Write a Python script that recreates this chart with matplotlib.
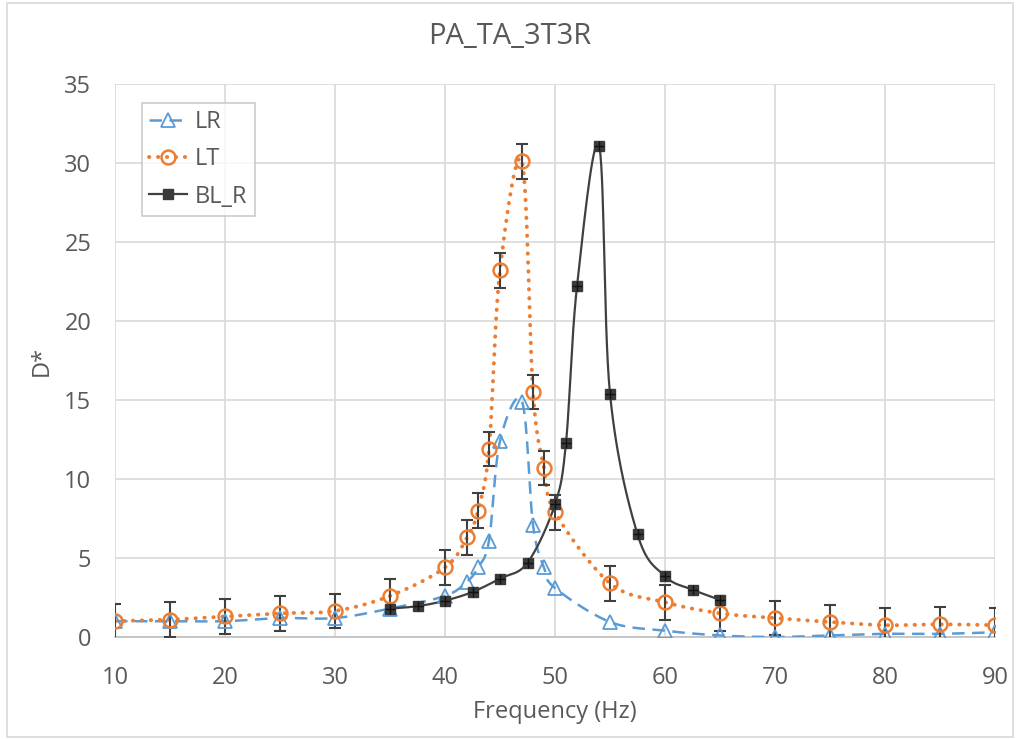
import numpy as np
import matplotlib
matplotlib.use("Agg")
import matplotlib.pyplot as plt
from matplotlib.patches import Rectangle

plt.rcParams['font.family'] = ['Open Sans', 'DejaVu Sans']

# ---- data ----
lr_freq = [10, 15, 20, 25, 30, 35, 40, 42, 43, 44, 45, 47, 48, 49, 50, 55, 60, 65, 70, 75, 80, 85, 90]
lr_vals = [1.0, 1.0, 1.0, 1.2, 1.2, 1.8, 2.6, 3.5, 4.4, 6.1, 12.4, 14.9, 7.1, 4.4, 3.1, 0.95, 0.4, 0.1, 0.0, 0.1, 0.2, 0.2, 0.3]

lt_freq = [10, 15, 20, 25, 30, 35, 40, 42, 43, 44, 45, 47, 48, 49, 50, 55, 60, 65, 70, 75, 80, 85, 90]
lt_vals = [1.0, 1.1, 1.3, 1.5, 1.65, 2.6, 4.4, 6.3, 8.0, 11.9, 23.2, 30.1, 15.5, 10.7, 7.9, 3.4, 2.2, 1.5, 1.2, 0.95, 0.75, 0.8, 0.75]
lt_err = [1.1] * len(lt_freq)

bl_freq = [35, 37.5, 40, 42.5, 45, 47.5, 50, 51, 52, 54, 55, 57.5, 60, 62.5, 65]
bl_vals = [1.8, 1.95, 2.3, 2.85, 3.7, 4.7, 8.4, 12.3, 22.2, 31.1, 15.4, 6.5, 3.85, 3.0, 2.35]

x_ticks = [10, 20, 30, 40, 50, 60, 70, 80, 90]
y_ticks = [0, 5, 10, 15, 20, 25, 30, 35]

BLUE = '#5B9BD5'
ORANGE = '#ED7D31'
DARK = '#404040'
TEXT = '#595959'
GRID = '#D9D9D9'


def smooth(xs, ys, sx=11.0, sy=15.8, n=30):
    """Catmull-Rom curve through the points, computed in display-like units."""
    P = np.column_stack([np.asarray(xs, float) * sx, np.asarray(ys, float) * sy])
    P = np.vstack([P[0], P, P[-1]])
    out = []
    t = np.linspace(0, 1, n, endpoint=False)[:, None]
    for i in range(1, len(P) - 2):
        p0, p1, p2, p3 = P[i - 1], P[i], P[i + 1], P[i + 2]
        c1 = p1 + (p2 - p0) / 6.0
        c2 = p2 - (p3 - p1) / 6.0
        seg = ((1 - t) ** 3) * p1 + 3 * ((1 - t) ** 2) * t * c1 + 3 * (1 - t) * t ** 2 * c2 + t ** 3 * p2
        out.append(seg)
    out.append(P[-2][None, :])
    out = np.vstack(out)
    return out[:, 0] / sx, out[:, 1] / sy


fig = plt.figure(figsize=(10.19, 7.4), dpi=100)
ax = fig.add_axes([115 / 1019, 1 - 637 / 740, 880 / 1019, 553 / 740])

LR_STYLE = dict(color=BLUE, lw=1.8, ls=(0, (5, 3)))
LT_STYLE = dict(color=ORANGE, lw=2.8, ls=(0, (0.1, 2.2)), dash_capstyle='round')
BL_STYLE = dict(color=DARK, lw=1.6)

# curves
x, y = smooth(lr_freq, lr_vals)
ax.plot(x, y, zorder=3, **LR_STYLE)
x, y = smooth(lt_freq, lt_vals)
ax.plot(x, y, zorder=3, **LT_STYLE)
x, y = smooth(bl_freq, bl_vals)
ax.plot(x, y, zorder=3, **BL_STYLE)

# error bars on LT
ax.errorbar(lt_freq, lt_vals, yerr=lt_err, fmt='none', ecolor=DARK, elinewidth=1.5,
            capsize=4, capthick=1.5, zorder=4)

# markers
ax.plot(lr_freq, lr_vals, ls='none', marker='^', ms=10, mfc='none', mec=BLUE, mew=1.3, zorder=5)
ax.plot(lt_freq, lt_vals, ls='none', marker='o', ms=10, mfc='none', mec=ORANGE, mew=1.8, zorder=5)
ax.plot(bl_freq, bl_vals, ls='none', marker='s', ms=7, mfc='#3a3a3a', mec='#3a3a3a', zorder=5)
ax.plot(bl_freq, bl_vals, ls='none', marker='+', ms=7, mec='#111111', mew=1.0, zorder=6)

ax.set_xlim(10, 90)
ax.set_ylim(0, 35)
ax.set_xticks(x_ticks)
ax.set_yticks(y_ticks)
ax.grid(True, color=GRID, lw=1.2)
ax.set_axisbelow(True)
for s in ['top', 'right', 'left']:
    ax.spines[s].set_visible(False)
ax.spines['bottom'].set_color('#BFBFBF')
ax.spines['bottom'].set_linewidth(1.2)
ax.tick_params(axis='both', length=0, labelsize=17, labelcolor=TEXT)
ax.tick_params(axis='x', pad=21)
ax.tick_params(axis='y', pad=17)

ax.set_xlabel('Frequency (Hz)', fontsize=17, color=TEXT, va='center')
ax.xaxis.set_label_coords(0.5, (637 - 712) / 553)
ax.set_ylabel('D*', fontsize=17, color=TEXT, va='center')
ax.yaxis.set_label_coords((42 - 115) / 880, 0.5)
fig.text(0.5, 1 - 37 / 740, 'PA_TA_3T3R', ha='center', va='center', fontsize=21, color=TEXT)

# legend
h_lr, = ax.plot([], [], marker='^', ms=10, mfc='none', mec=BLUE, mew=1.3, **LR_STYLE)
h_lt, = ax.plot([], [], marker='o', ms=10, mfc='none', mec=ORANGE, mew=1.8, **LT_STYLE)
h_bl, = ax.plot([], [], marker='s', ms=7, mfc='#3a3a3a', mec='#3a3a3a', **BL_STYLE)
leg = ax.legend([h_lr, h_lt, h_bl], ['LR', 'LT', 'BL_R'], loc='upper left',
                bbox_to_anchor=((142 - 115) / 880, 1 - (103 - 84) / 553),
                fontsize=17, frameon=True, fancybox=False, edgecolor='#BFBFBF',
                handlelength=1.6, handletextpad=0.35, borderpad=0.3, labelspacing=0.56,
                borderaxespad=0)
for t in leg.get_texts():
    t.set_color(TEXT)
leg.get_frame().set_linewidth(1.2)

# outer chart border
fig.patches.append(Rectangle((7 / 1019, 3 / 740), 1006 / 1019, 734 / 740, transform=fig.transFigure,
                             fill=False, edgecolor=GRID, lw=1.2))

fig.savefig('out.png', dpi=100)
